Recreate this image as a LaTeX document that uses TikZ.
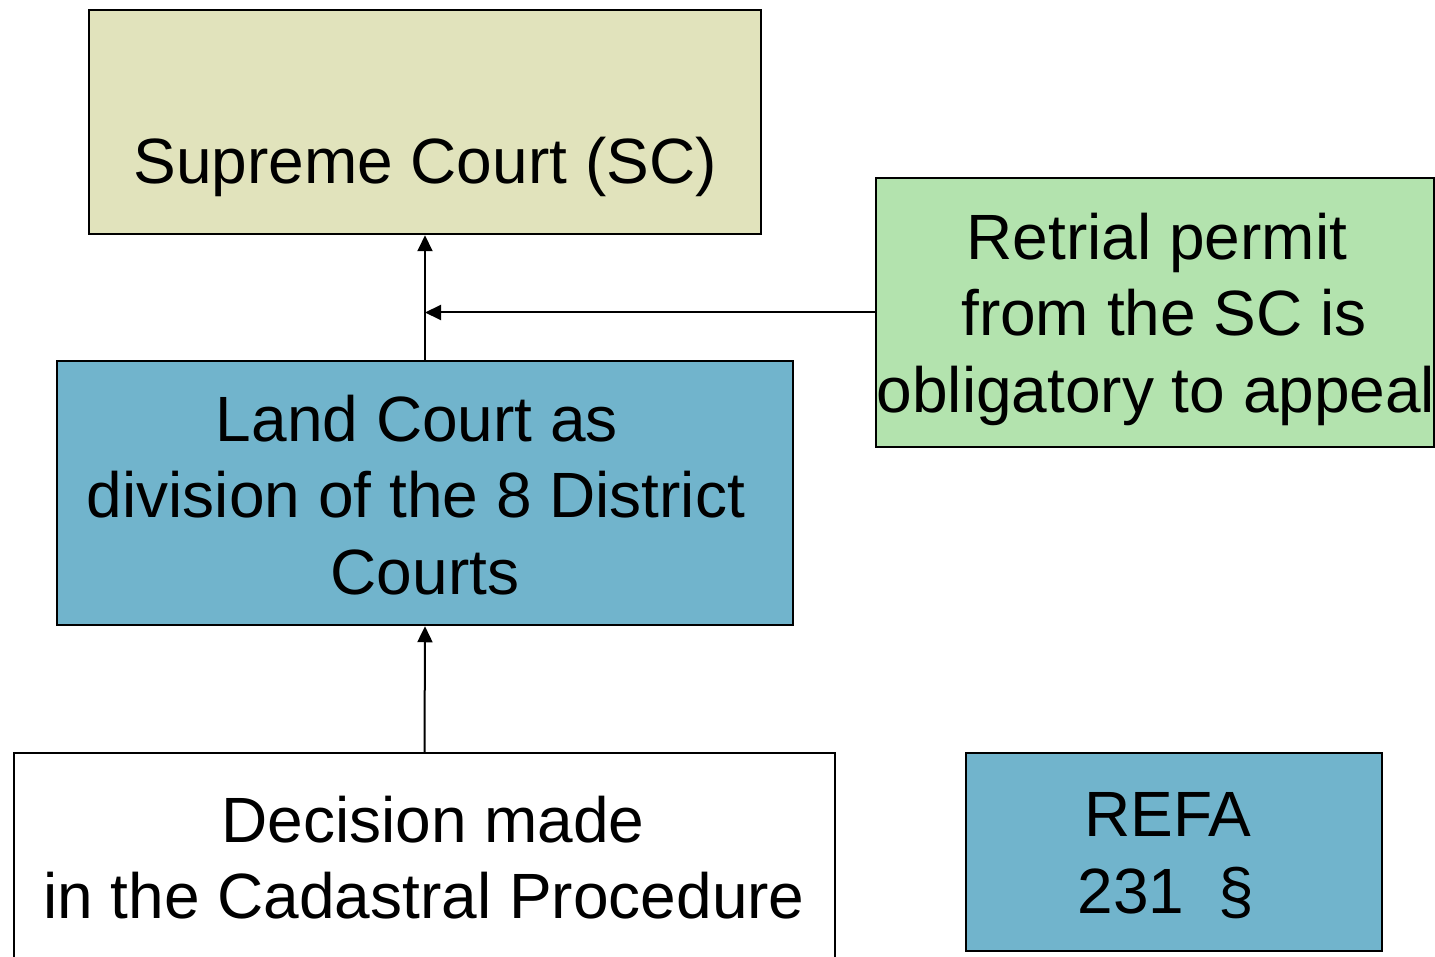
\documentclass[tikz,border=0pt]{standalone}
\usepackage{fontspec}
\setmainfont{Liberation Sans}
\usetikzlibrary{arrows.meta}
\definecolor{scfill}{RGB}{225,227,188}
\definecolor{bluefill}{RGB}{113,180,204}
\definecolor{greenfill}{RGB}{179,227,174}
\begin{document}
\begin{tikzpicture}[x=1pt,y=-1pt,
  box/.style={draw=black, line width=2.5pt, inner sep=0pt, rectangle},
  txt/.style={anchor=base, inner sep=0pt, font=\fontsize{64}{76.5}\selectfont},
  arr/.style={draw=black, line width=2pt, -{Triangle[length=16pt,width=15pt]}}]
\useasboundingbox (0,0) rectangle (1435,957);
% boxes
\node[box, fill=scfill, minimum width=672pt, minimum height=224pt] (sc) at (425,122) {};
\node[box, fill=greenfill, minimum width=558pt, minimum height=269pt] (green) at (1155,312.5) {};
\node[box, fill=bluefill, minimum width=736pt, minimum height=264pt] (land) at (425,493) {};
\node[box, fill=white, minimum width=821pt, minimum height=260pt] (dec) at (424.5,883) {};
\node[box, fill=bluefill, minimum width=416pt, minimum height=198pt] (refa) at (1174,852) {};
% texts
\node[txt] (t1) at (425,184) {Supreme Court (SC)};
\node[txt] (t2) at (1157,260) {Retrial permit};
\node[txt] (t3) at (1164,336) {from the SC is};
\node[txt] (t4) at (1156,413) {obligatory to appeal};
\node[txt] (t5) at (417,441) {Land Court as};
\node[txt] (t6) at (416,517) {division of the 8 District};
\node[txt] (t7) at (425,594) {Courts};
\node[txt] (t8) at (433,842) {Decision made};
\node[txt] (t9) at (424,918) {in the Cadastral Procedure};
\node[txt] (t10) at (1168,836) {REFA};
\node[txt] (t11) at (1166,913) {231\hspace{34pt}§};
% connectors
\draw[arr] (land.north) -- (sc.south);
\coordinate (j) at (green.west -| sc.south);
\draw[arr] (green.west) -- (j);
\draw[arr] (dec.north) -- (land.south);
\end{tikzpicture}
\end{document}
